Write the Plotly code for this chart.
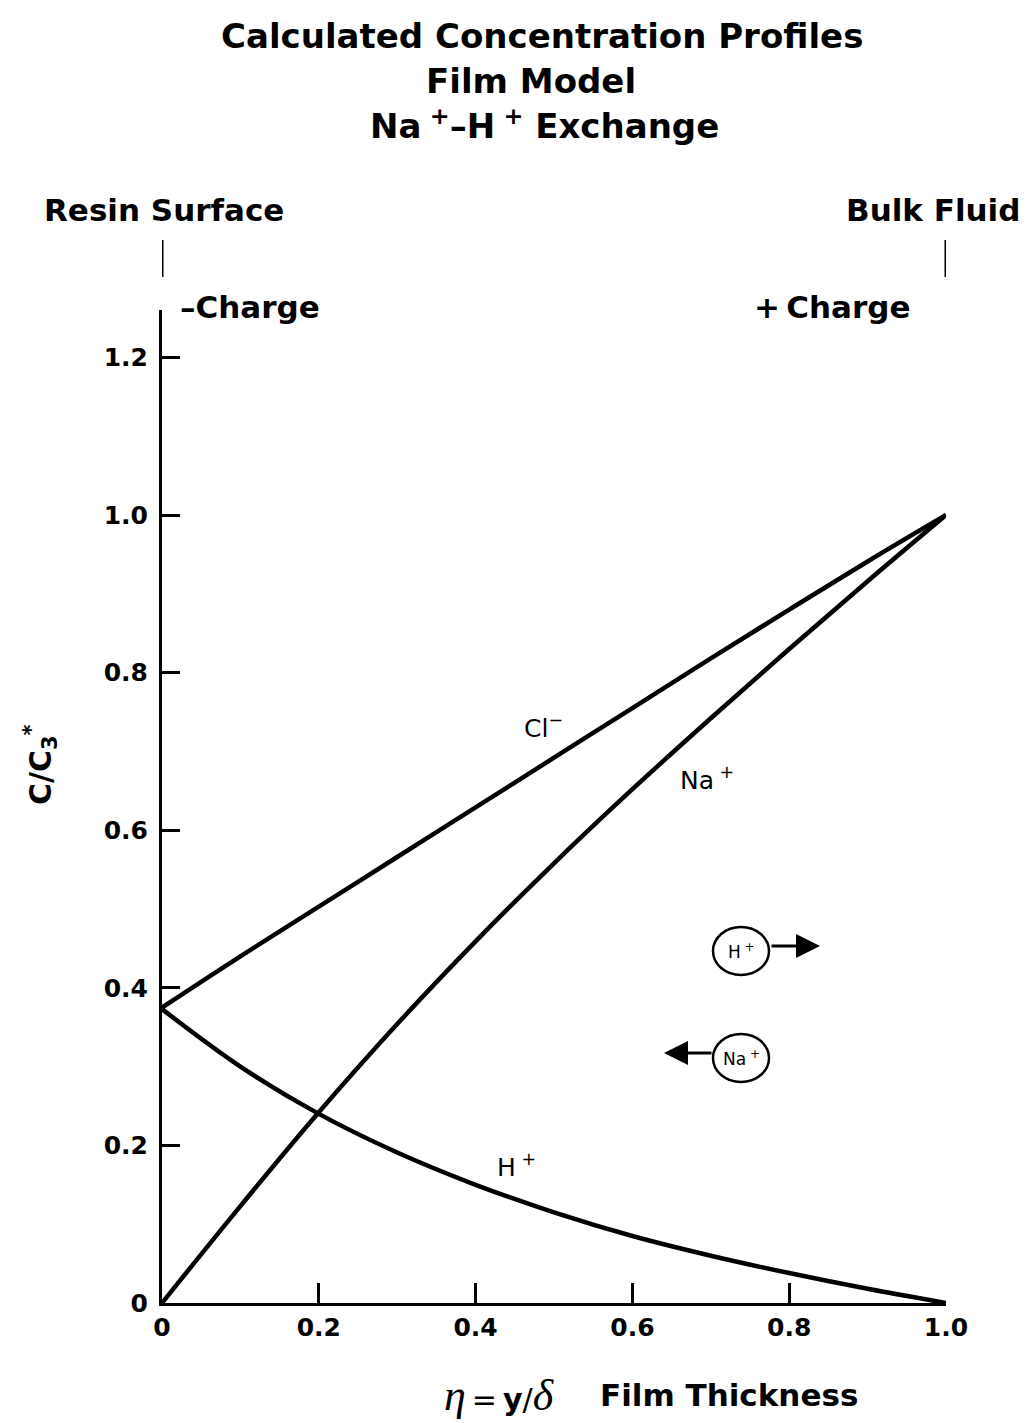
"""Calculated concentration profiles, film model, Na+-H+ exchange."""

import plotly.graph_objects as go

# film thickness coordinate eta = y/delta
ETA = [0.0, 0.1, 0.2, 0.3, 0.4, 0.5, 0.6, 0.7, 0.8, 0.9, 1.0]

# concentration ratios C/C3*
CL_MINUS = [0.375, 0.44, 0.503, 0.566, 0.629, 0.692, 0.755, 0.818, 0.88, 0.941, 1.0]
NA_PLUS = [0.0, 0.123, 0.242, 0.354, 0.459, 0.558, 0.652, 0.742, 0.83, 0.916, 1.0]
H_PLUS = [0.373, 0.3, 0.24, 0.191, 0.15, 0.115, 0.085, 0.06, 0.038, 0.018, 0.0]

X_TICKS = [0, 0.2, 0.4, 0.6, 0.8, 1.0]
X_TICK_TEXT = ['0', '0.2', '0.4', '0.6', '0.8', '1.0']
Y_TICKS = [0, 0.2, 0.4, 0.6, 0.8, 1.0, 1.2]
Y_TICK_TEXT = ['0', '0.2', '0.4', '0.6', '0.8', '1.0', '1.2']

W, H = 1026, 1423
L, R, T, B = 162, 80, 310, 120
PW, PH = W - L - R, H - T - B

SANS = 'DejaVu Sans, Verdana, sans-serif'
SERIF = 'Liberation Serif, Times New Roman, serif'


def px(x, y):
    """Pixel position on the page -> paper coordinates."""
    return (x - L) / PW, (H - B - y) / PH


def label(fig, text, x, y, size=27, weight='bold', family=SANS,
          xanchor='center', textangle=0):
    """Add a text annotation placed in page pixels."""
    xp, yp = px(x, y)
    fig.add_annotation(text=text, x=xp, y=yp, xref='paper', yref='paper',
                       showarrow=False, xanchor=xanchor, yanchor='middle',
                       textangle=textangle,
                       font={'family': family, 'size': size, 'color': 'black',
                             'weight': weight})


fig = go.Figure()

for profile in (CL_MINUS, NA_PLUS, H_PLUS):
    fig.add_trace(go.Scatter(x=ETA, y=profile, mode='lines',
                             line={'color': 'black', 'width': 4.5,
                                   'shape': 'spline', 'smoothing': 1.0},
                             cliponaxis=False, showlegend=False,
                             hoverinfo='skip'))

fig.update_xaxes(range=[0, 1], tickvals=X_TICKS, ticktext=X_TICK_TEXT,
                 showline=True, linecolor='black', linewidth=3,
                 ticks='inside', ticklen=20, tickwidth=2.5, tickcolor='black',
                 showgrid=False, zeroline=False, ticklabelstandoff=0,
                 tickfont={'family': SANS, 'size': 25, 'color': 'black',
                           'weight': 'bold'})
fig.update_yaxes(range=[0, PH / 788], tickvals=Y_TICKS, ticktext=Y_TICK_TEXT,
                 showline=True, linecolor='black', linewidth=3,
                 ticks='inside', ticklen=18, tickwidth=2.5, tickcolor='black',
                 showgrid=False, zeroline=False, ticklabelstandoff=6,
                 tickfont={'family': SANS, 'size': 25, 'color': 'black',
                           'weight': 'bold'})

# title block
label(fig, 'Calculated Concentration Profiles', 542, 36, size=34)
label(fig, 'Film Model', 531, 81, size=34)
label(fig, 'Na<sup> +</sup>\u2013H<sup> +</sup> Exchange', 544, 124, size=34)

# boundary labels
label(fig, 'Resin Surface', 42, 210, size=31, xanchor='left')
label(fig, 'Bulk Fluid', 1022, 210, size=31, xanchor='right')
label(fig, '\u2013Charge', 178, 307, size=31, xanchor='left')
label(fig, '+\u2009Charge', 912, 307, size=31, xanchor='right')
for x0 in (0, 1):
    fig.add_shape(type='line', xref='x', yref='paper', x0=x0, x1=x0,
                  y0=px(0, 277)[1], y1=px(0, 240)[1],
                  line={'color': 'black', 'width': 3})

# curve labels
label(fig, 'Cl<sup>\u2212</sup>', 543, 726, size=25, weight='normal')
label(fig, 'Na<sup> +</sup>', 707, 778, size=25, weight='normal')
label(fig, 'H<sup> +</sup>', 516, 1165, size=25, weight='normal')

# axis titles
label(fig, 'C/C<sub>3</sub><sup>*</sup>', 40, 765, size=30, textangle=-90)
label(fig, '<i>\u03b7</i><span style="font-family:DejaVu Sans;font-size:30px">'
      '\u2009=\u2009<b>y</b>/</span><i>\u03b4</i>',
      499, 1395, size=44, weight='normal', family=SERIF)
label(fig, 'Film Thickness', 598, 1395, size=31, xanchor='left')

# ion migration markers
for cx, cy, ion, head_x, tail_dx in ((741, 951, 'H<sup> +</sup>', 820, -50),
                                    (741, 1058, 'Na<sup> +</sup>', 664, 49)):
    x0, y0 = px(cx - 28, cy + 24)
    x1, y1 = px(cx + 28, cy - 24)
    fig.add_shape(type='circle', xref='paper', yref='paper',
                  x0=x0, y0=y0, x1=x1, y1=y1,
                  line={'color': 'black', 'width': 2.5})
    label(fig, ion, cx, cy, size=17, weight='normal')
    hx, hy = px(head_x, cy - 5)
    fig.add_annotation(x=hx, y=hy, xref='paper', yref='paper',
                       ax=tail_dx, ay=0, axref='pixel', ayref='pixel',
                       showarrow=True, arrowhead=2, arrowsize=1.6,
                       arrowwidth=3, arrowcolor='black', text='')

fig.update_layout(width=W, height=H, autosize=False,
                  margin={'l': L, 'r': R, 't': T, 'b': B},
                  paper_bgcolor='white', plot_bgcolor='white',
                  font={'family': SANS, 'color': 'black'})

fig.write_html('out.html', config={'displayModeBar': False},
               post_script="document.body.style.margin='0';")
